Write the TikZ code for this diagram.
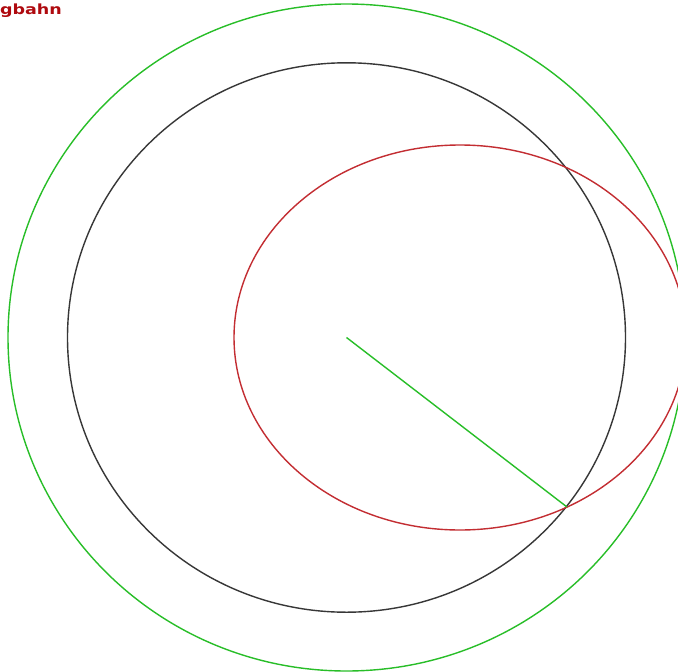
\documentclass[tikz,border=0pt]{standalone}
\usepackage{fontspec}
\usepackage{xcolor}
\usepackage{tikz}
\usetikzlibrary{positioning}
\newfontfamily\labelfont{DejaVu Sans}
\definecolor{orbitgreen}{RGB}{40,190,40}
\definecolor{orbitred}{RGB}{195,45,50}
\definecolor{orbitgray}{RGB}{55,55,55}
\definecolor{labelred}{RGB}{175,10,15}

\begin{document}
\begin{tikzpicture}[
    x=1bp, y=-1bp,
    orbit/.style={line width=1.4bp},
    outerorbit/.style={orbit, draw=orbitgreen},
    circorbit/.style={orbit, draw=orbitgray},
    ellorbit/.style={orbit, draw=orbitred},
    radius/.style={line width=1.4bp, draw=orbitgreen},
    title/.style={inner sep=0pt, anchor=base east, text=labelred, font=\labelfont\bfseries\fontsize{14bp}{16bp}\selectfont}
]
\clip (0,0) rectangle (678,672);
\fill[white] (0,0) rectangle (678,672);

% Centres
\coordinate (sun)  at (346.5,337.5);
\coordinate (mid)  at (460,337.5);
\coordinate (hit)  at (567,507);

% Orbits
\draw[outerorbit] (sun) ellipse [x radius=338.5, y radius=333.5];
\draw[circorbit]  (sun) ellipse [x radius=279, y radius=274.7];
\draw[ellorbit]   (mid) ellipse [x radius=226, y radius=192.5];

% Radius vector
\draw[radius] (sun) -- (hit);

% Label
\node[title] (name) at (62,15) {\scalebox{1.25}[1]{gbahn}};
\end{tikzpicture}
\end{document}
